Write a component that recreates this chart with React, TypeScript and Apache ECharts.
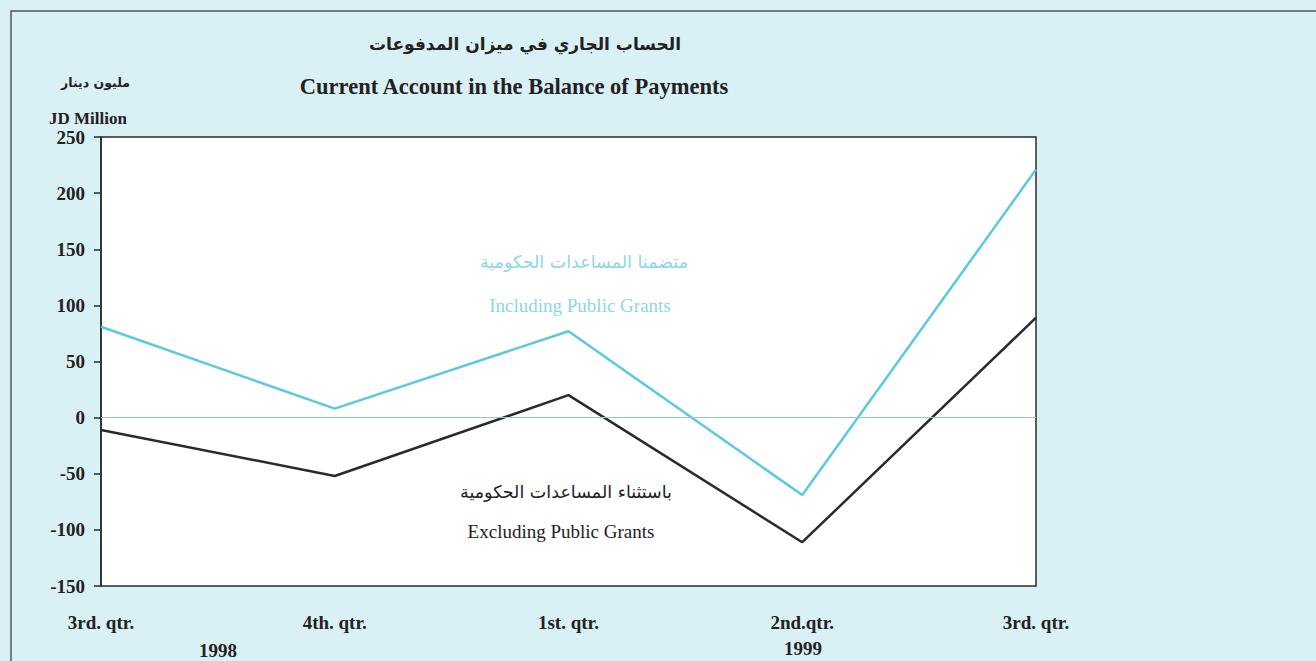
import React, { useEffect, useRef } from "react";
import * as echarts from "echarts";

const categories = ["3rd. qtr.", "4th. qtr.", "1st. qtr.", "2nd.qtr.", "3rd. qtr."];
const includingGrants = [81, 8, 77, -69, 221];
const excludingGrants = [-11, -52, 20, -111, 89];
const yearLabels = ["1998", "1999"];
const titleArabic = "الحساب الجاري في ميزان المدفوعات";
const titleEnglish = "Current Account in the Balance of Payments";
const unitArabic = "مليون دينار";
const unitEnglish = "JD Million";
const incArabic = "متضمنا المساعدات الحكومية";
const incEnglish = "Including Public Grants";
const excArabic = "باستثناء المساعدات الحكومية";
const excEnglish = "Excluding Public Grants";

const SERIF = "'Liberation Serif', 'DejaVu Serif', serif";
const ARABIC = "'DejaVu Sans', 'Noto Sans', sans-serif";

export default function App() {
  const ref = useRef<HTMLDivElement>(null);
  useEffect(() => {
    if (!ref.current) return;
    const chart = echarts.init(ref.current, undefined, { renderer: "svg" });
    const txt = (x: number, y: number, text: string, o: any) => ({
      type: "text",
      x,
      y,
      silent: true,
      style: { text, textAlign: "center", textVerticalAlign: "middle", fill: "#222", ...o },
    });
    chart.setOption({
      animation: false,
      backgroundColor: "#d9f0f5",
      grid: {
        left: 101,
        right: 280,
        top: 137,
        bottom: 75,
        show: true,
        backgroundColor: "#ffffff",
        borderColor: "#2b2b2b",
        borderWidth: 1.5,
      },
      xAxis: {
        type: "category",
        data: categories,
        boundaryGap: false,
        axisLine: { show: false },
        axisTick: { show: false },
        axisLabel: {
          margin: 27,
          fontFamily: SERIF,
          fontWeight: "bold",
          fontSize: 19,
          color: "#222",
        },
        splitLine: { show: false },
      },
      yAxis: {
        type: "value",
        min: -150,
        max: 250,
        interval: 50,
        axisLine: { show: true, lineStyle: { color: "#2b2b2b", width: 1.5 } },
        axisTick: { show: true, length: 7, lineStyle: { color: "#2b2b2b", width: 1.5 } },
        axisLabel: {
          margin: 16,
          fontFamily: SERIF,
          fontWeight: "bold",
          fontSize: 19,
          color: "#222",
        },
        splitLine: { show: false },
      },
      series: [
        {
          type: "line",
          data: includingGrants,
          symbol: "none",
          lineStyle: { color: "#5cc9de", width: 2.5 },
          markLine: {
            silent: true,
            symbol: "none",
            label: { show: false },
            lineStyle: { color: "#95c9d2", width: 1, type: "solid" },
            data: [{ yAxis: 0 }],
          },
        },
        {
          type: "line",
          data: excludingGrants,
          symbol: "none",
          lineStyle: { color: "#2a2a2a", width: 2.5 },
        },
      ],
      graphic: [
        {
          type: "rect",
          silent: true,
          shape: { x: 11, y: 11, width: 1330, height: 680 },
          style: { fill: "none", stroke: "#555", lineWidth: 1.5 },
        },
        txt(525, 44, titleArabic, { fontFamily: ARABIC, fontWeight: "bold", fontSize: 17 }),
        txt(514, 86, titleEnglish, { fontFamily: SERIF, fontWeight: "bold", fontSize: 22.5 }),
        txt(130, 82, unitArabic, { fontFamily: ARABIC, fontWeight: "bold", fontSize: 12.5, textAlign: "right" }),
        txt(49, 118, unitEnglish, { fontFamily: SERIF, fontWeight: "bold", fontSize: 17, textAlign: "left" }),
        txt(584, 262, incArabic, { fontFamily: ARABIC, fontSize: 17.5, fill: "#8dd6e5" }),
        txt(580, 305, incEnglish, { fontFamily: SERIF, fontSize: 19, fill: "#8dd6e5" }),
        txt(566, 492, excArabic, { fontFamily: ARABIC, fontSize: 17.5 }),
        txt(561, 531, excEnglish, { fontFamily: SERIF, fontSize: 19 }),
        txt(218, 650, yearLabels[0], { fontFamily: SERIF, fontWeight: "bold", fontSize: 19 }),
        txt(803, 648, yearLabels[1], { fontFamily: SERIF, fontWeight: "bold", fontSize: 19 }),
      ],
    });
    return () => chart.dispose();
  }, []);
  return (
    <div
      ref={ref}
      style={{ position: "fixed", left: 0, top: 0, width: 1316, height: 661 }}
    />
  );
}
